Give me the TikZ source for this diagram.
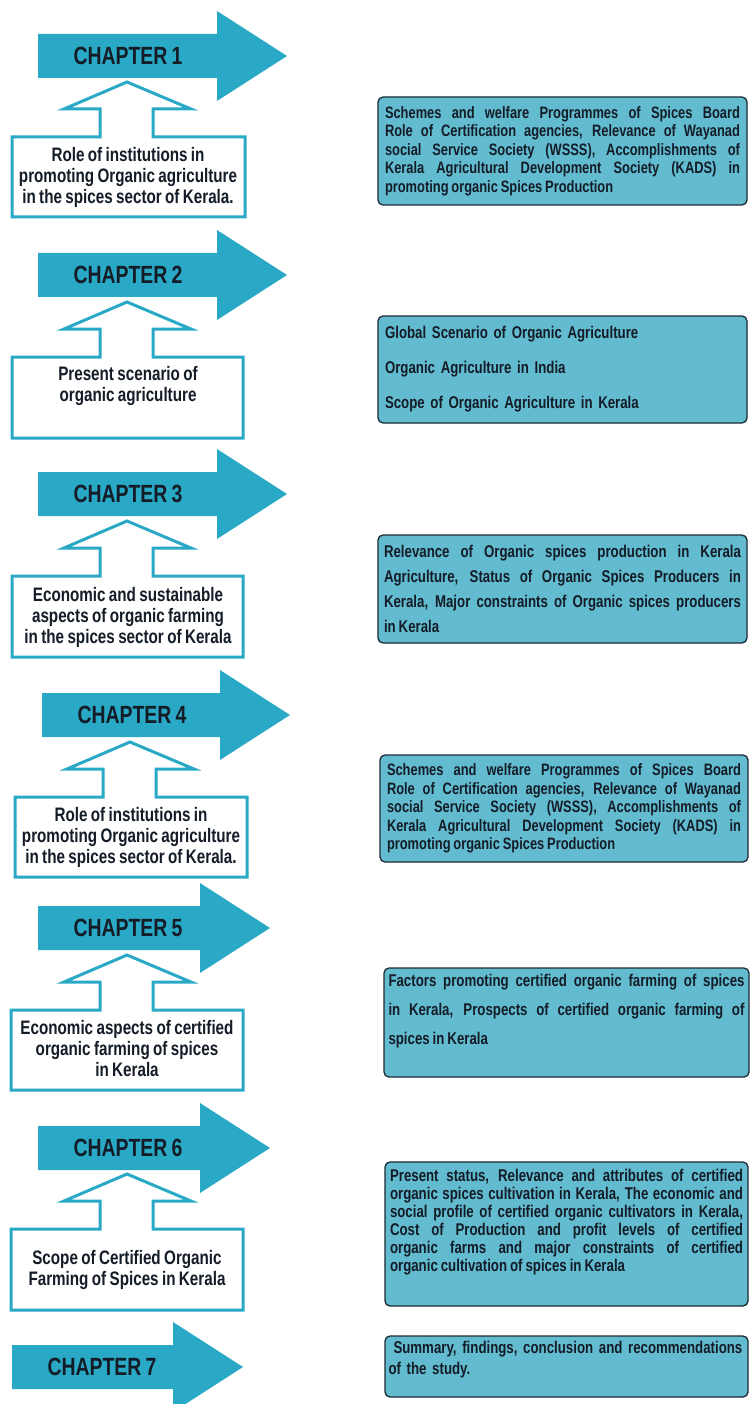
\documentclass[tikz,border=0pt]{standalone}
\usepackage{fontspec}
\setmainfont{Liberation Sans}[FakeStretch=0.78, WordSpace=0.8]
\usetikzlibrary{positioning}

\definecolor{chapteal}{HTML}{29A9C5}
\definecolor{panelblue}{HTML}{62BBCF}
\definecolor{paneledge}{HTML}{1C2A33}
\definecolor{inkdark}{HTML}{141C27}

\tolerance=10000
\hbadness=10000
\hyphenpenalty=10000

% chapter arrow: shaft left, centre line, head base, tip
\newcommand{\chaparrow}[4]{%
  \fill[chapteal] (#1,{#2-22}) -- (#3,{#2-22}) -- (#3,{#2-45}) -- (#4,#2)
    -- (#3,{#2+45}) -- (#3,{#2+22}) -- (#1,{#2+22}) -- cycle;}
% topic box with hollow up arrow: left, right, arrow centre, tip, bottom
\newcommand{\upbox}[5]{%
  \draw[outline] (#1,#5) -- (#1,{#4+55}) -- ({#3-27},{#4+55}) -- ({#3-27},{#4+27})
    -- ({#3-63},{#4+27}) -- (#3,#4) -- ({#3+64},{#4+27}) -- ({#3+26},{#4+27})
    -- ({#3+26},{#4+55}) -- (#2,{#4+55}) -- (#2,#5) -- cycle;}

\begin{document}
\begin{tikzpicture}[
    x=1pt, y=-1pt,
    outline/.style={draw=chapteal, line width=3pt, fill=white},
    chaplabel/.style={font=\bfseries\fontsize{24.9}{28}\selectfont, text=inkdark, inner sep=0pt},
    topic/.style={font=\bfseries\fontsize{19.5}{21}\selectfont, text=inkdark, align=center, inner sep=0pt},
    panel/.style={draw=paneledge, line width=1.3pt, fill=panelblue, rounded corners=5pt,
        inner sep=0pt, text=inkdark, align=justify,
        font=\bfseries\fontsize{16.5}{18.5}\selectfont}
]
    \useasboundingbox (0,0) rectangle (750,1404);

    % Chapter 1
    \chaparrow{38}{56}{217}{287}
    \node[chaplabel] (ch1) at (128,56) {CHAPTER 1};
    \upbox{12}{245}{127}{82}{217}
    \node[topic] (topic1) at (128,177) {Role of institutions in\\promoting Organic agriculture\\in the spices sector of Kerala.};
    \node[panel, minimum width=369, minimum height=108, text width=355pt] (detail1) at (562.5,151)
        {Schemes and welfare Programmes of Spices Board\linebreak
         Role of Certification agencies, Relevance of Wayanad\linebreak
         social Service Society (WSSS), Accomplishments of\linebreak
         Kerala Agricultural Development Society (KADS) in\linebreak
         promoting organic Spices Production};

    % Chapter 2
    \chaparrow{38}{275}{217}{287}
    \node[chaplabel] (ch2) at (128,275) {CHAPTER 2};
    \upbox{12}{243}{127}{302}{438}
    \node[topic] (topic2) at (128,386) {Present scenario of\\organic agriculture};
    \node[panel, minimum width=369, minimum height=107, text width=355pt, align=left,
        font=\bfseries\fontsize{17}{35}\selectfont] (detail2) at (562.5,369.5)
        {Global Scenario of Organic Agriculture\\
         Organic Agriculture in India\\
         Scope of Organic Agriculture in Kerala};

    % Chapter 3
    \chaparrow{38}{494}{217}{287}
    \node[chaplabel] (ch3) at (128,494) {CHAPTER 3};
    \upbox{12}{243}{127}{521}{657}
    \node[topic] (topic3) at (128,617) {Economic and sustainable\\aspects of organic farming\\in the spices sector of Kerala};
    \node[panel, minimum width=369, minimum height=108, text width=357pt,
        font=\bfseries\fontsize{17}{25}\selectfont] (detail3) at (562.5,589)
        {Relevance of Organic spices production in Kerala\linebreak
         Agriculture, Status of Organic Spices Producers in\linebreak
         Kerala, Major constraints of Organic spices producers\linebreak
         in Kerala};

    % Chapter 4
    \chaparrow{42}{715}{220}{290}
    \node[chaplabel] (ch4) at (132,715) {CHAPTER 4};
    \upbox{15}{247}{130}{742}{877}
    \node[topic] (topic4) at (131,837) {Role of institutions in\\promoting Organic agriculture\\in the spices sector of Kerala.};
    \node[panel, minimum width=368, minimum height=107, text width=354pt] (detail4) at (564,808.5)
        {Schemes and welfare Programmes of Spices Board\linebreak
         Role of Certification agencies, Relevance of Wayanad\linebreak
         social Service Society (WSSS), Accomplishments of\linebreak
         Kerala Agricultural Development Society (KADS) in\linebreak
         promoting organic Spices Production};

    % Chapter 5
    \chaparrow{38}{928}{200}{270}
    \node[chaplabel] (ch5) at (128,928) {CHAPTER 5};
    \upbox{11}{243}{127}{955}{1090}
    \node[topic] (topic5) at (127,1049) {Economic aspects of certified\\organic farming of spices\\in Kerala};
    \node[panel, minimum width=365, minimum height=109, text width=356pt,
        font=\bfseries\fontsize{17}{29}\selectfont] (detail5) at (566.5,1022.5)
        {Factors promoting certified organic farming of spices\linebreak
         in Kerala, Prospects of certified organic farming of\linebreak
         spices in Kerala\par\vspace{22pt}};

    % Chapter 6
    \chaparrow{38}{1148}{200}{270}
    \node[chaplabel] (ch6) at (128,1148) {CHAPTER 6};
    \upbox{11}{243}{127}{1174}{1310}
    \node[topic] (topic6) at (127,1270) {Scope of Certified Organic\\Farming of Spices in Kerala};
    \node[panel, minimum width=363, minimum height=144, text width=353pt,
        font=\bfseries\fontsize{17}{18}\selectfont] (detail6) at (566.5,1234)
        {Present status, Relevance and attributes of certified\linebreak
         organic spices cultivation in Kerala, The economic and\linebreak
         social profile of certified organic cultivators in Kerala,\linebreak
         Cost of Production and profit levels of certified\linebreak
         organic farms and major constraints of certified\linebreak
         organic cultivation of spices in Kerala\par\vspace{24pt}};

    % Chapter 7
    \chaparrow{12}{1367}{173}{243}
    \node[chaplabel] (ch7) at (102,1367) {CHAPTER 7};
    \node[panel, minimum width=363, minimum height=61, text width=356pt, align=left,
        font=\bfseries\fontsize{17}{21}\selectfont] (detail7) at (566.5,1366.5)
        {\hspace*{5pt}Summary, findings, conclusion and recommendations\\
         of the study.\par\vspace{13pt}};

\end{tikzpicture}
\end{document}
